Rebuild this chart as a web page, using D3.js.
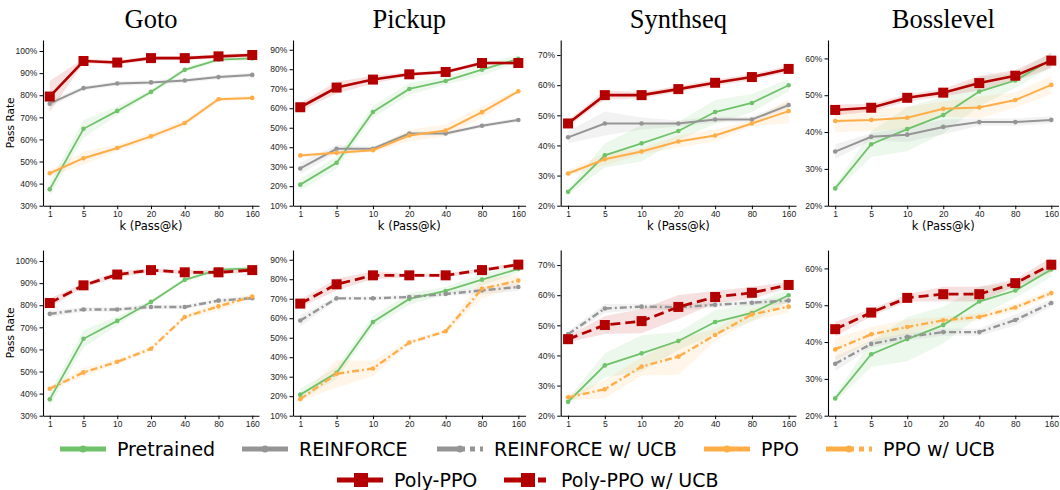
<!DOCTYPE html>
<html>
<head>
<meta charset="utf-8">
<script src="https://cdn.jsdelivr.net/npm/d3@7"></script>
<style>
  body { margin: 0; background: #fff; }
  svg { display: block; font-family: "DejaVu Sans", sans-serif; }
  .tick text { fill: #222; }
</style>
</head>
<body>
<svg width="1060" height="490"></svg>
<script>
const kLabels = ["1", "5", "10", "20", "40", "80", "160"];
const envNames = ["Goto", "Pickup", "Synthseq", "Bosslevel"];
const yDomains = [[30, 105], [10, 95], [20, 75], [20, 65]];
const yTicks = [
  [30, 40, 50, 60, 70, 80, 90, 100],
  [10, 20, 30, 40, 50, 60, 70, 80, 90],
  [20, 30, 40, 50, 60, 70],
  [20, 30, 40, 50, 60]
];

// pass rates (%), one row per environment
const pretrained = [
  [37.4, 64.8, 72.9, 81.5, 91.5, 96.1, 96.7],
  [20.8, 32.0, 58.1, 69.9, 74.0, 79.8, 85.3],
  [24.6, 36.7, 40.7, 44.8, 51.1, 54.1, 60.0],
  [24.7, 36.7, 40.8, 44.6, 51.0, 54.0, 59.7]
];
const reinforce = [
  [76.2, 83.2, 85.3, 85.8, 86.7, 88.2, 89.2],
  [29.1, 39.2, 39.2, 47.0, 47.0, 51.0, 54.0],
  [42.7, 47.3, 47.3, 47.3, 48.6, 48.6, 53.4],
  [34.7, 38.7, 39.3, 41.4, 42.7, 42.7, 43.3]
];
const ppo = [
  [44.7, 51.5, 56.1, 61.4, 67.4, 78.2, 78.8],
  [35.8, 37.1, 38.5, 46.0, 48.6, 58.0, 68.7],
  [30.7, 35.4, 38.0, 41.3, 43.3, 47.3, 51.4],
  [43.0, 43.3, 43.9, 46.3, 46.7, 48.7, 52.8]
];
const polyPpo = [
  [79.4, 95.5, 94.8, 96.8, 96.8, 97.6, 98.2],
  [60.5, 70.6, 74.7, 77.4, 78.6, 83.2, 83.2],
  [47.3, 56.7, 56.7, 58.7, 60.8, 62.7, 65.4],
  [46.0, 46.6, 49.3, 50.7, 53.3, 55.3, 59.4]
];
const reinforceUcb = [
  [76.1, 78.1, 78.1, 79.2, 79.2, 82.1, 83.2],
  [58.8, 70.2, 70.2, 70.9, 72.4, 74.3, 76.0],
  [47.0, 55.6, 56.2, 56.0, 56.8, 57.5, 58.2],
  [34.1, 39.5, 41.4, 42.7, 42.7, 46.0, 50.6]
];
const ppoUcb = [
  [42.2, 49.6, 54.4, 60.3, 74.7, 79.5, 83.9],
  [18.5, 31.5, 34.2, 47.5, 53.3, 75.1, 79.3],
  [26.1, 28.8, 36.3, 39.6, 46.8, 53.6, 56.2],
  [38.0, 42.1, 44.1, 45.9, 46.8, 49.4, 53.3]
];
const polyPpoUcb = [
  [81.0, 89.0, 93.9, 95.9, 94.9, 94.9, 95.9],
  [67.5, 77.4, 82.0, 82.0, 82.0, 84.7, 87.5],
  [45.4, 50.1, 51.4, 56.1, 59.4, 60.8, 63.4],
  [43.5, 48.0, 52.0, 53.0, 53.0, 56.0, 61.0]
];

// half-width of the shaded band (%)
const pretrainedBand = [
  [3, 4, 2, 1, 1, 1, 1],
  [3, 3, 3, 3, 2, 3, 2],
  [1, 4, 6, 3, 4, 3, 2],
  [1, 3.5, 6, 5, 4, 2, 2]
];
const reinforceBand = [
  [1.5, 1, 1, 1, 1, 1, 1],
  [3, 2, 1, 1, 1, 1, 1],
  [2, 4, 2, 1, 1, 1, 1],
  [2, 1, 2, 2, 1, 1, 1]
];
const ppoBand = [
  [1.5, 3, 1.5, 1.5, 1.5, 1, 1],
  [1, 1, 1, 3, 3, 3, 1],
  [1, 2, 1, 2, 2, 1, 4],
  [3, 3, 3, 2, 3, 2, 2.5]
];
const polyPpoBand = [
  [7, 1, 1, 1, 1, 1, 1],
  [2, 3, 2, 1, 1, 1, 1],
  [1, 1.5, 1, 1, 1, 1, 1],
  [1.5, 1, 1, 1, 2, 1.5, 2]
];
const reinforceUcbBand = [
  [1.5, 1, 1, 1, 1, 1, 1],
  [3, 1, 1, 1, 1, 2, 2],
  [1, 1.5, 1, 1, 1, 1, 1],
  [2, 1, 1, 1, 1, 1.5, 1]
];
const ppoUcbBand = [
  [1, 2, 1, 1, 1, 2, 1],
  [1, 7, 4, 1, 1, 5, 3],
  [1, 3, 3, 6, 2, 2, 2],
  [3, 2, 2, 1, 1, 1, 1]
];
const polyPpoUcbBand = [
  [2, 1, 1.5, 1, 1, 1, 1],
  [2, 3, 2, 1, 1, 1, 1],
  [1, 3, 4, 4, 2, 2, 1],
  [2, 1, 1, 2, 2, 1, 2]
];

const green = "#6fc26a", gray = "#959595", orange = "#ffad47", red = "#b30000";

const styles = {
  pretrained: { color: green, width: 1.8, dash: null, marker: "circle" },
  reinforce: { color: gray, width: 2, dash: null, marker: "circle" },
  ppo: { color: orange, width: 2, dash: null, marker: "circle" },
  polyPpo: { color: red, width: 2.6, dash: null, marker: "square" },
  reinforceUcb: { color: gray, width: 2.4, dash: "7,3,2,3", marker: "circle" },
  ppoUcb: { color: orange, width: 2.4, dash: "7,3,2,3", marker: "circle" },
  polyPpoUcb: { color: red, width: 2.8, dash: "10,5", marker: "square" }
};

const rows = [
  { top: 40, bottom: 205.7, xLabel: true,
    series: [["pretrained", pretrained, pretrainedBand], ["reinforce", reinforce, reinforceBand],
             ["ppo", ppo, ppoBand], ["polyPpo", polyPpo, polyPpoBand]] },
  { top: 250, bottom: 415.7, xLabel: false,
    series: [["pretrained", pretrained, pretrainedBand], ["reinforceUcb", reinforceUcb, reinforceUcbBand],
             ["ppoUcb", ppoUcb, ppoUcbBand], ["polyPpoUcb", polyPpoUcb, polyPpoUcbBand]] }
];
const panelX = [[43, 259], [293, 525.6], [560.7, 796], [828, 1058.5]];

const svg = d3.select("svg");

rows.forEach((row, ri) => {
  envNames.forEach((env, ei) => {
    const x = d3.scaleLinear().domain([-0.2, 6.2]).range(panelX[ei]);
    const y = d3.scaleLinear().domain(yDomains[ei]).range([row.bottom, row.top]);
    const g = svg.append("g");

    // bands
    row.series.forEach(([key, vals, band]) => {
      const st = styles[key];
      const area = d3.area()
        .x((d, i) => x(i))
        .y0((d, i) => y(vals[ei][i] - band[ei][i]))
        .y1((d, i) => y(vals[ei][i] + band[ei][i]));
      g.append("path")
        .datum(vals[ei])
        .attr("d", area)
        .attr("fill", st.color)
        .attr("fill-opacity", 0.12);
    });

    // lines and markers
    row.series.forEach(([key, vals]) => {
      const st = styles[key];
      const line = d3.line().x((d, i) => x(i)).y(d => y(d));
      g.append("path")
        .datum(vals[ei])
        .attr("d", line)
        .attr("fill", "none")
        .attr("stroke", st.color)
        .attr("stroke-width", st.width)
        .attr("stroke-dasharray", st.dash);
      if (st.marker === "circle") {
        g.selectAll(null).data(vals[ei]).enter().append("circle")
          .attr("cx", (d, i) => x(i))
          .attr("cy", d => y(d))
          .attr("r", 2.3)
          .attr("fill", st.color);
      } else {
        g.selectAll(null).data(vals[ei]).enter().append("rect")
          .attr("x", (d, i) => x(i) - 5)
          .attr("y", d => y(d) - 5)
          .attr("width", 10)
          .attr("height", 10)
          .attr("fill", st.color);
      }
    });

    // axes
    g.append("g")
      .attr("transform", `translate(0,${row.bottom})`)
      .call(d3.axisBottom(x).tickValues(d3.range(kLabels.length)).tickFormat(i => kLabels[i])
        .tickSize(3.5).tickPadding(1.5).tickSizeOuter(0))
      .call(a => a.selectAll("text").attr("font-size", 8.5))
      .call(a => a.select(".domain").attr("stroke", "#000").attr("stroke-width", 1.1));
    g.append("g")
      .attr("transform", `translate(${panelX[ei][0]},0)`)
      .call(d3.axisLeft(y).tickValues(yTicks[ei]).tickFormat(d => d + "%").tickSize(3.5).tickSizeOuter(0))
      .call(a => a.selectAll("text").attr("font-size", 8.5).attr("dx", "0.1em"))
      .call(a => a.select(".domain").attr("stroke", "#000").attr("stroke-width", 1.1));

    const cx = (panelX[ei][0] + panelX[ei][1]) / 2;
    if (ri === 0) {
      svg.append("text")
        .attr("x", cx).attr("y", 28)
        .attr("text-anchor", "middle")
        .attr("font-family", "Liberation Serif, serif")
        .attr("font-size", 26.5)
        .text(env);
    }
    if (row.xLabel) {
      svg.append("text")
        .attr("x", cx).attr("y", 230)
        .attr("text-anchor", "middle")
        .attr("font-size", 11.5)
        .text("k (Pass@k)");
    }
    if (ei === 0) {
      svg.append("text")
        .attr("transform", `translate(14,${(row.top + row.bottom) / 2}) rotate(-90)`)
        .attr("text-anchor", "middle")
        .attr("font-size", 10.5)
        .text("Pass Rate");
    }
  });
});

// legend
const legendItems = [
  { key: "pretrained", label: "Pretrained", x: 60, row: 0 },
  { key: "reinforce", label: "REINFORCE", x: 242, row: 0 },
  { key: "reinforceUcb", label: "REINFORCE w/ UCB", x: 437, row: 0 },
  { key: "ppo", label: "PPO", x: 704, row: 0 },
  { key: "ppoUcb", label: "PPO w/ UCB", x: 826, row: 0 },
  { key: "polyPpo", label: "Poly-PPO", x: 337, row: 1 },
  { key: "polyPpoUcb", label: "Poly-PPO w/ UCB", x: 504, row: 1 }
];
const legendY = [449, 480];
const legend = svg.append("g");
legendItems.forEach(it => {
  const st = styles[it.key];
  const ly = legendY[it.row];
  const lg = legend.append("g");
  lg.append("line")
    .attr("x1", it.x).attr("x2", it.x + 46)
    .attr("y1", ly).attr("y2", ly)
    .attr("stroke", st.color)
    .attr("stroke-width", 5)
    .attr("stroke-dasharray", st.dash ? (st.marker === "square" ? "30,4,8,4" : "28,5,5,5") : null);
  if (st.marker === "circle") {
    lg.append("circle").attr("cx", it.x + 23).attr("cy", ly).attr("r", 3.5).attr("fill", st.color);
  } else {
    lg.append("rect").attr("x", it.x + 17).attr("y", ly - 7).attr("width", 14).attr("height", 14).attr("fill", st.color);
  }
  lg.append("text")
    .attr("x", it.x + 57).attr("y", ly + 7)
    .attr("font-size", 19)
    .text(it.label);
});
</script>
</body>
</html>
